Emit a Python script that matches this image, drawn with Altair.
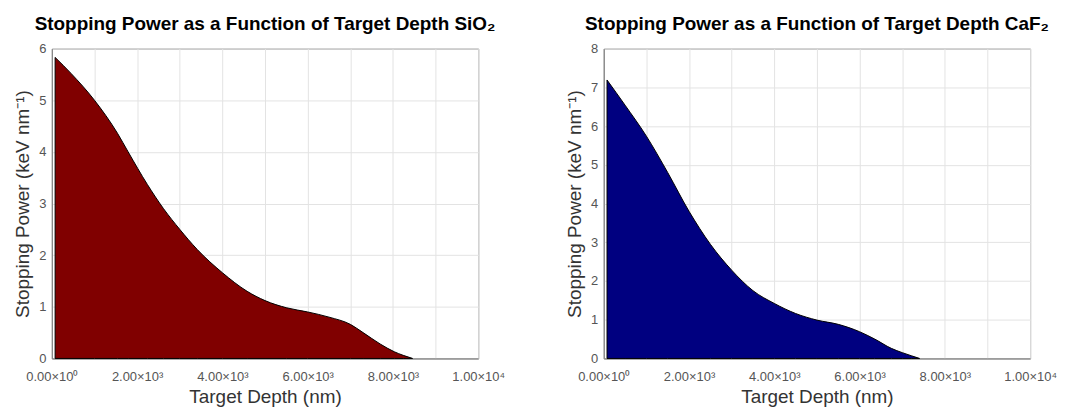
import altair as alt
import pandas as pd

# SiO2 data
sio2_depth = [77, 450, 1000, 1540, 1790, 2240, 2620, 3000, 3410, 4000, 4580, 5000, 5510, 6000, 6500, 7000, 7300, 7700, 8030, 8240, 8460]
sio2_sp = [5.83, 5.52, 5.00, 4.36, 4.00, 3.37, 2.90, 2.50, 2.11, 1.66, 1.30, 1.12, 0.98, 0.90, 0.80, 0.66, 0.50, 0.28, 0.13, 0.06, 0.0]

# CaF2 data
caf2_depth = [77, 500, 1000, 1500, 2000, 2500, 3000, 3500, 4000, 4500, 5000, 5500, 6000, 6355, 6745, 7000, 7212, 7407]
caf2_sp = [7.19, 6.54, 5.74, 4.80, 3.80, 2.95, 2.28, 1.75, 1.42, 1.16, 0.99, 0.88, 0.69, 0.50, 0.26, 0.15, 0.07, 0.0]

x_ticks = list(range(0, 10001, 1000))
x_label_expr = ("datum.value == 0 ? '0.00×10⁰' : datum.value == 2000 ? '2.00×10³' : "
                "datum.value == 4000 ? '4.00×10³' : datum.value == 6000 ? '6.00×10³' : "
                "datum.value == 8000 ? '8.00×10³' : datum.value == 10000 ? '1.00×10⁴' : ''")

FONT = "Liberation Sans"


def panel(depth, sp, ymax, color, title):
    df = pd.DataFrame({"depth": depth, "sp": sp})
    return alt.Chart(df, title=alt.TitleParams(
        title, fontSize=19, fontWeight="bold", font=FONT, color="#000000", offset=9, anchor="middle"
    )).mark_area(
        color=color, stroke="#000000", strokeWidth=1, interpolate="monotone", opacity=1
    ).encode(
        x=alt.X("depth:Q", scale=alt.Scale(domain=[0, 10000], nice=False),
                axis=alt.Axis(title="Target Depth (nm)", values=x_ticks, labelExpr=x_label_expr,
                              labelFlush=False, labelOverlap=False, tickSize=0, labelPadding=12,
                              titlePadding=4)),
        y=alt.Y("sp:Q", scale=alt.Scale(domain=[0, ymax], nice=False),
                axis=alt.Axis(title="Stopping Power (keV nm⁻¹)", values=list(range(0, ymax + 1)),
                              tickSize=0, labelPadding=6, titlePadding=6)),
    ).properties(width=428, height=311)


left = panel(sio2_depth, sio2_sp, 6, "#800000", "Stopping Power as a Function of Target Depth SiO₂")
right = panel(caf2_depth, caf2_sp, 8, "#000080", "Stopping Power as a Function of Target Depth CaF₂")

chart = alt.hconcat(left, right, spacing=126, bounds="flush").configure_view(
    stroke="#777777", strokeWidth=1
).configure_axis(
    labelFont=FONT, titleFont=FONT, labelFontSize=13, titleFontSize=19,
    labelColor="#555555", titleColor="#333333", titleFontWeight="normal",
    domainColor="#777777", grid=True, gridColor="#e3e3e3", gridWidth=1,
)

chart.save("out.html", embed_options={"renderer": "svg", "actions": False})
